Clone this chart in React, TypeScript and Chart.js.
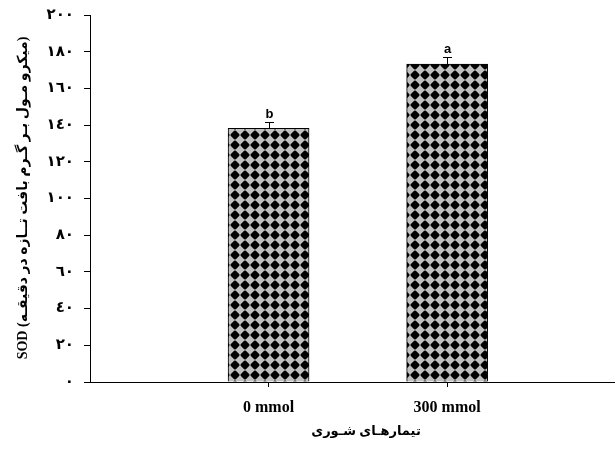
import React, { useEffect, useRef } from "react";
import { Chart, registerables } from "chart.js";

Chart.register(...registerables);

// Treatments, mean SOD activity and standard errors
const categories: string[] = ["0 mmol", "300 mmol"];
const categoryPositions: number[] = [1, 2];
const sodMeans: number[] = [138.3, 173.3];
const sodErrors: number[] = [3.4, 3.8];
const groupLetters: string[] = ["b", "a"];

const yMin = 0;
const yMax = 200;
const yStep = 20;

const yTitle = "SOD (میکرو مـول بـر گـرم بافت تــازه در دقیقـه)";
const xTitle = "تیمارهـای شـوری";

const SERIF = "'Times New Roman', 'Liberation Serif', 'DejaVu Sans', serif";
const SANS = "Arial, 'Liberation Sans', sans-serif";

const arabicDigits = "٠١٢٣٤٥٦٧٨٩";
const toArabic = (n: number) =>
  String(n).replace(/[0-9]/g, (d) => arabicDigits[Number(d)]);

// Grey fill with black rounded diamonds on a square lattice
function makeDiamondPattern(ctx: CanvasRenderingContext2D): CanvasPattern | string {
  const p = 10;
  const tile = document.createElement("canvas");
  tile.width = p;
  tile.height = p;
  const tctx = tile.getContext("2d");
  if (!tctx) return "#bdbdbd";
  const img = tctx.createImageData(p, p);
  const grey = 192;
  const q = 1.15;
  const r = 4.7;
  const ss = 4;
  for (let j = 0; j < p; j++) {
    for (let i = 0; i < p; i++) {
      let inside = 0;
      for (let sy = 0; sy < ss; sy++) {
        for (let sx = 0; sx < ss; sx++) {
          const x = i + (sx + 0.5) / ss - p / 2;
          const y = j + (sy + 0.5) / ss - p / 2;
          if (Math.pow(Math.abs(x), q) + Math.pow(Math.abs(y), q) < Math.pow(r, q)) inside++;
        }
      }
      const cov = inside / (ss * ss);
      const v = Math.round(grey * (1 - cov));
      const k = (j * p + i) * 4;
      img.data[k] = v;
      img.data[k + 1] = v;
      img.data[k + 2] = v;
      img.data[k + 3] = 255;
    }
  }
  tctx.putImageData(img, 0, 0);
  const pat = ctx.createPattern(tile, "repeat");
  return pat || "#bdbdbd";
}

const errorBarPlugin = {
  id: "errorBarsAndLetters",
  afterDatasetsDraw(chart: any) {
    const { ctx, scales } = chart;
    const xs = scales.x;
    const ys = scales.y;
    ctx.save();
    ctx.strokeStyle = "#000";
    ctx.lineWidth = 1;
    sodMeans.forEach((m, i) => {
      const x = Math.round(xs.getPixelForValue(categoryPositions[i])) + 0.5;
      const yTop = ys.getPixelForValue(m);
      const yErr = Math.round(ys.getPixelForValue(m + sodErrors[i])) + 0.5;
      ctx.beginPath();
      ctx.moveTo(x, yTop);
      ctx.lineTo(x, yErr);
      ctx.moveTo(x - 4.5, yErr);
      ctx.lineTo(x + 4.5, yErr);
      ctx.stroke();
      ctx.fillStyle = "#000";
      ctx.font = `bold 13px ${SANS}`;
      ctx.textAlign = "center";
      ctx.textBaseline = "alphabetic";
      ctx.fillText(groupLetters[i], x, yErr - 5);
    });
    ctx.restore();
  },
};

const axisTitlePlugin = {
  id: "axisTitles",
  afterDraw(chart: any) {
    const { ctx } = chart;
    ctx.save();
    ctx.fillStyle = "#000";
    ctx.textAlign = "center";
    ctx.textBaseline = "middle";
    ctx.font = `bold 13px ${SERIF}`;
    ctx.fillText(xTitle, 366, 432);
    ctx.font = `bold 14px ${SERIF}`;
    ctx.translate(23, 198);
    ctx.rotate(-Math.PI / 2);
    ctx.fillText(yTitle, 0, 0);
    ctx.restore();
  },
};

export default function App() {
  const canvasRef = useRef<HTMLCanvasElement | null>(null);

  useEffect(() => {
    const canvas = canvasRef.current;
    if (!canvas) return;
    const ctx = canvas.getContext("2d");
    if (!ctx) return;
    const fill = makeDiamondPattern(ctx);

    const chart = new Chart(ctx, {
      type: "bar",
      data: {
        datasets: [
          {
            data: sodMeans.map((v, i) => ({ x: categoryPositions[i], y: v })),
            backgroundColor: fill as any,
            borderColor: "#000",
            borderWidth: 1,
            borderSkipped: "bottom",
            barThickness: 81,
          },
        ],
      },
      options: {
        responsive: false,
        animation: false,
        devicePixelRatio: 1,
        layout: { padding: { top: 15, right: 0, bottom: 0, left: 0 } },
        plugins: {
          legend: { display: false },
          tooltip: { enabled: false },
        },
        scales: {
          x: {
            type: "linear",
            min: 0,
            max: 2.94,
            offset: false,
            afterBuildTicks: (scale: any) => {
              scale.ticks = categoryPositions.map((v) => ({ value: v }));
            },
            afterFit: (scale: any) => {
              scale.height = 77;
              scale.paddingLeft = 0;
              scale.paddingRight = 0;
            },
            ticks: {
              autoSkip: false,
              maxRotation: 0,
              padding: 11,
              color: "#000",
              font: { family: SERIF, size: 16, weight: "bold" },
              callback: (value: any) => {
                const idx = categoryPositions.indexOf(Number(value));
                return idx >= 0 ? categories[idx] : "";
              },
            },
            grid: {
              offset: false,
              drawOnChartArea: false,
              drawTicks: true,
              tickLength: 5,
              color: "#000",
            },
            border: { display: true, color: "#000", width: 1 },
          },
          y: {
            min: yMin,
            max: yMax,
            afterFit: (scale: any) => {
              scale.width = 90;
              scale.paddingTop = 0;
              scale.paddingBottom = 0;
            },
            ticks: {
              stepSize: yStep,
              padding: 10,
              color: "#000",
              font: { family: SERIF, size: 15, weight: "bold" },
              callback: (value: any) => toArabic(Number(value)),
            },
            grid: {
              drawOnChartArea: false,
              drawTicks: true,
              tickLength: 6,
              color: "#000",
            },
            border: { display: true, color: "#000", width: 1 },
          },
        },
      },
      plugins: [errorBarPlugin, axisTitlePlugin],
    } as any);

    return () => chart.destroy();
  }, []);

  return (
    <div style={{ position: "absolute", left: 0, top: 0, width: 615, height: 459, background: "#fff" }}>
      <canvas ref={canvasRef} width={615} height={459} style={{ display: "block" }} />
    </div>
  );
}
